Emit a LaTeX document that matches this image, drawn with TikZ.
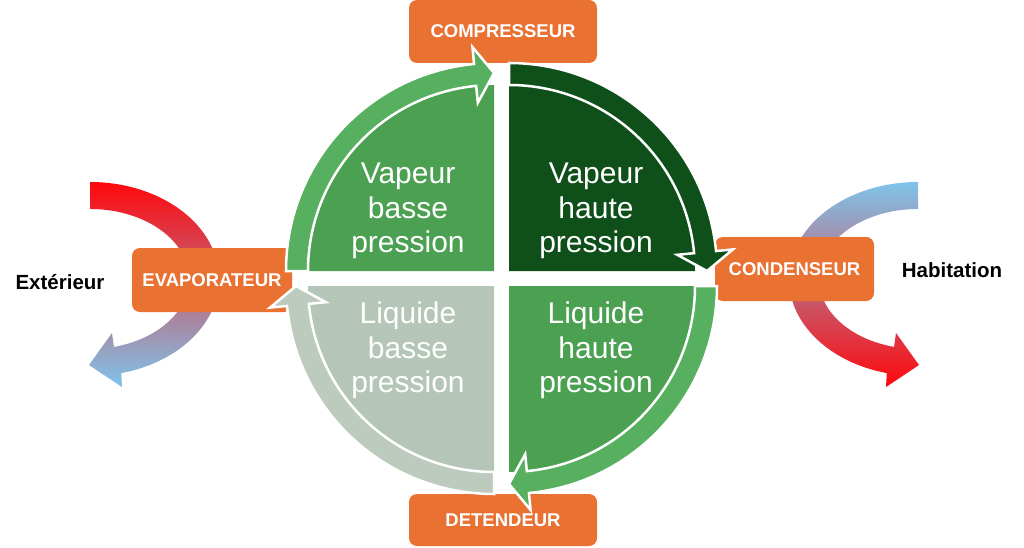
\documentclass[tikz,border=0pt]{standalone}
\usepackage{fontspec}
\setmainfont{Liberation Sans}
\definecolor{orng}{RGB}{233,113,50}
\definecolor{gInner}{RGB}{75,160,82}
\definecolor{gBand}{RGB}{86,176,96}
\definecolor{dkGreen}{RGB}{14,79,26}
\definecolor{grInner}{RGB}{181,197,184}
\definecolor{grBand}{RGB}{188,203,190}
\definecolor{arrRed}{RGB}{255,8,12}
\definecolor{arrBlue}{RGB}{126,196,234}
\definecolor{arrMid}{RGB}{220,128,162}
\newcommand\quadrant[4]{%
  \begin{scope}[shift={#1}]
    \fill[#3] (0,0) -- (#2:186) arc[start angle=#2, end angle=#2-90, radius=186] -- cycle;
    \pgfmathsetmacro\qb{#2-84.5}\pgfmathsetmacro\qt{#2-90}
    \filldraw[fill=#4, draw=white, line width=2.5pt, line join=miter]
      (#2:208) arc[start angle=#2, end angle=\qb, radius=208]
      -- (\qb:225) -- (\qt:198) -- (\qb:169) -- (\qb:186)
      arc[start angle=\qb, end angle=#2, radius=186] -- cycle;
  \end{scope}}
\begin{document}
\begin{tikzpicture}[x=1pt,y=1pt,
  box/.style={fill=orng, rounded corners=8pt, inner sep=0pt, text=white,
    font=\fontsize{18.5}{22}\selectfont\bfseries},
  qtext/.style={text=white, align=center, font=\fontsize{30}{34.5}\selectfont},
  side/.style={text=black, font=\fontsize{20.5}{24}\selectfont\bfseries}]
\useasboundingbox (0,0) rectangle (1024,547);

% side arrows
\shade[top color=arrRed, middle color=arrMid, bottom color=arrBlue]
  (90,365) arc[start angle=90, end angle=-76, x radius=129, y radius=97]
  -- (122,160) -- (89,182) -- (112,214) -- (113.95,200.1)
  arc[start angle=-76, end angle=90, x radius=99, y radius=70] -- cycle;
\shade[top color=arrBlue, middle color=arrMid, bottom color=arrRed]
  (918,365) arc[start angle=90, end angle=256, x radius=129, y radius=97]
  -- (886,160) -- (919,182) -- (896,214) -- (894.05,200.1)
  arc[start angle=256, end angle=90, x radius=99, y radius=70] -- cycle;

% boxes
\node[box, minimum width=188pt, minimum height=63pt] (comp) at (503,515.5) {COMPRESSEUR};
\node[box, minimum width=160pt, minimum height=64pt] (evap) at (212,267) {EVAPORATEUR};
\node[box, minimum width=159pt, minimum height=64pt] (cond) at (794.5,278) {CONDENSEUR};
\node[box, minimum width=188pt, minimum height=52pt] (dete) at (503,27) {DETENDEUR};

% quadrants
\coordinate (TL) at (494,276);
\coordinate (TR) at (509,276);
\coordinate (BL) at (494,261);
\coordinate (BR) at (509,261);
\quadrant{(TL)}{180}{gInner}{gBand}
\quadrant{(TR)}{90}{dkGreen}{dkGreen}
\quadrant{(BR)}{360}{gInner}{gBand}
\quadrant{(BL)}{270}{grInner}{grBand}

% texts
\node[qtext] (tlt) at (408,336) {Vapeur\\basse\\pression};
\node[qtext] (trt) at (596,336) {Vapeur\\haute\\pression};
\node[qtext] (blt) at (408,196.5) {Liquide\\basse\\pression};
\node[qtext] (brt) at (596,196.5) {Liquide\\haute\\pression};
\node[side] (ext) at (60,265) {Extérieur};
\node[side] (hab) at (952,277) {Habitation};
\end{tikzpicture}
\end{document}
